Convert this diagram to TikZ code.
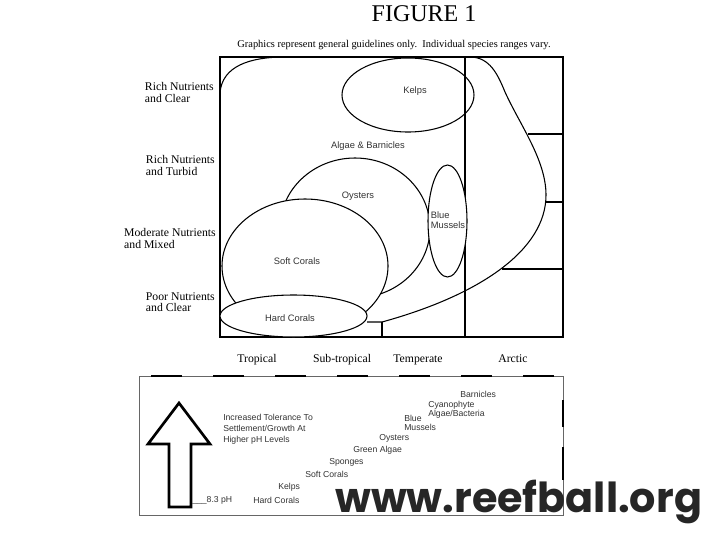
\documentclass[tikz,border=0pt]{standalone}
\usepackage{fontspec}
\setmainfont{Liberation Serif}
\setsansfont{Liberation Sans}
\newfontfamily\webfont{Poppins}
\usetikzlibrary{positioning}
\tikzset{
  % Frame and zone lines
  frame/.style={draw=black, line width=1.2pt},
  zone/.style={draw=black, line width=0.8pt},
  % Species range ellipses
  spellipse/.style={draw=black, line width=0.8pt, fill=white},
  % Labels
  title/.style={font=\fontsize{18}{20}\selectfont},
  note/.style={font=\fontsize{7.8}{9}\selectfont},
  rowlabel/.style={font=\fontsize{8.8}{8.3}\selectfont, align=left, anchor=east, inner sep=0pt},
  collabel/.style={font=\fontsize{8.8}{10}\selectfont, anchor=base, inner sep=0pt},
  splabel/.style={font=\sffamily\fontsize{7}{7.3}\selectfont, text=black!80, align=left, inner sep=0pt},
  phlabel/.style={font=\sffamily\fontsize{6.5}{6.8}\selectfont, text=black!80, align=left, anchor=west, inner sep=0pt},
  blockarrow/.style={draw=black, line width=2pt, line join=miter},
  watermark/.style={font=\webfont\bfseries\fontsize{31}{33}\selectfont, text=black!85, anchor=base west, inner sep=0pt},
}

\begin{document}
\begin{tikzpicture}[x=0.75pt, y=-0.75pt]
  \useasboundingbox (0,0) rectangle (720,540);

  % --- TITLES ---
  \node[title] (fig) at (424,14) {FIGURE 1};
  \node[note] (guide) at (394,45) {Graphics represent general guidelines only.\ \ Individual species ranges vary.};

  % --- HABITAT CHART ---
  \draw[frame] (220,57) rectangle (563,337);
  \draw[zone] (465,57) -- (465,337);
  \draw[zone] (382,322) -- (382,337);
  \draw[zone] (528,134) -- (563,134);
  \draw[zone] (546,202) -- (563,202);
  \draw[zone] (502,269) -- (563,269);

  % algae and barnicles outline
  \draw[zone] (220,93) .. controls (222,66) and (250,57) .. (285,57) -- (470,57)
    .. controls (490,57) and (498,75) .. (505,92)
    .. controls (520,125) and (546,160) .. (546,195)
    .. controls (546,250) and (480,295) .. (382,322) -- (367,322);

  % species ranges
  \draw[zone] (408,95) ellipse [x radius=66, y radius=37];
  \draw[spellipse] (355,228) ellipse [x radius=75, y radius=70];
  \draw[spellipse] (447.5,221) ellipse [x radius=19.5, y radius=56];
  \draw[spellipse] (305,266) ellipse [x radius=83, y radius=67];
  \draw[spellipse] (293.5,316) ellipse [x radius=73.5, y radius=21];

  \node[splabel] (kelps) at (415,91) {Kelps};
  \node[splabel] (algae) at (368,146) {Algae \& Barnicles};
  \node[splabel] (oysters) at (358,196) {Oysters};
  \node[splabel] (mussels) at (448,220) {Blue\\Mussels};
  \node[splabel] (soft) at (297,261) {Soft Corals};
  \node[splabel] (hard) at (290,318) {Hard Corals};

  % nutrient rows
  \node[rowlabel] (row1) at (214,92.5) {Rich Nutrients\\and Clear};
  \node[rowlabel] (row2) at (215,165.5) {Rich Nutrients\\and Turbid};
  \node[rowlabel] (row3) at (216,238.5) {Moderate Nutrients\\and Mixed};
  \node[rowlabel] (row4) at (215,302.5) {Poor Nutrients\\and Clear};

  % climate columns
  \node[collabel] (tropical) at (257,362.5) {Tropical};
  \node[collabel] (subtropical) at (342,362.5) {Sub-tropical};
  \node[collabel] (temperate) at (418,362.5) {Temperate};
  \node[collabel] (arctic) at (513,362.5) {Arctic};

  % --- PH TOLERANCE BOX ---
  \draw[draw=black!60, line width=0.6pt] (139,376) rectangle (563,515);
  \draw[line width=1.6pt, dash pattern=on 23.25pt off 23.25pt] (151,376) -- (563,376);
  \draw[line width=1.4pt] (563,400) -- (563,427) (563,447) -- (563,480);

  \draw[blockarrow] (179,403) -- (210,444) -- (191,444) -- (191,507)
    -- (169,507) -- (169,444) -- (148,444) -- cycle;

  \node[phlabel, font=\sffamily\fontsize{6.5}{8.2}\selectfont] (tol) at (223,429)
    {Increased Tolerance To\\Settlement/Growth At\\Higher pH Levels};
  \node[phlabel] (ph) at (192,500) {\_\_\_8.3 pH};
  \node[phlabel] (ph-hard) at (253,500) {Hard Corals};
  \node[phlabel] (ph-kelps) at (278,487) {Kelps};
  \node[phlabel] (ph-soft) at (305,474) {Soft Corals};
  \node[phlabel] (ph-sponges) at (329,462) {Sponges};
  \node[phlabel] (ph-green) at (353,450) {Green Algae};
  \node[phlabel] (ph-oysters) at (379,438) {Oysters};
  \node[phlabel] (ph-mussels) at (404,422.5) {Blue\\Mussels};
  \node[phlabel] (ph-cyano) at (428,409.5) {Cyanophyte\\Algae/Bacteria};
  \node[phlabel] (ph-barn) at (460,394) {Barnicles};

  % --- WATERMARK ---
  \node[watermark] (web) at (335,512) {www.reefball.org};

\end{tikzpicture}
\end{document}
